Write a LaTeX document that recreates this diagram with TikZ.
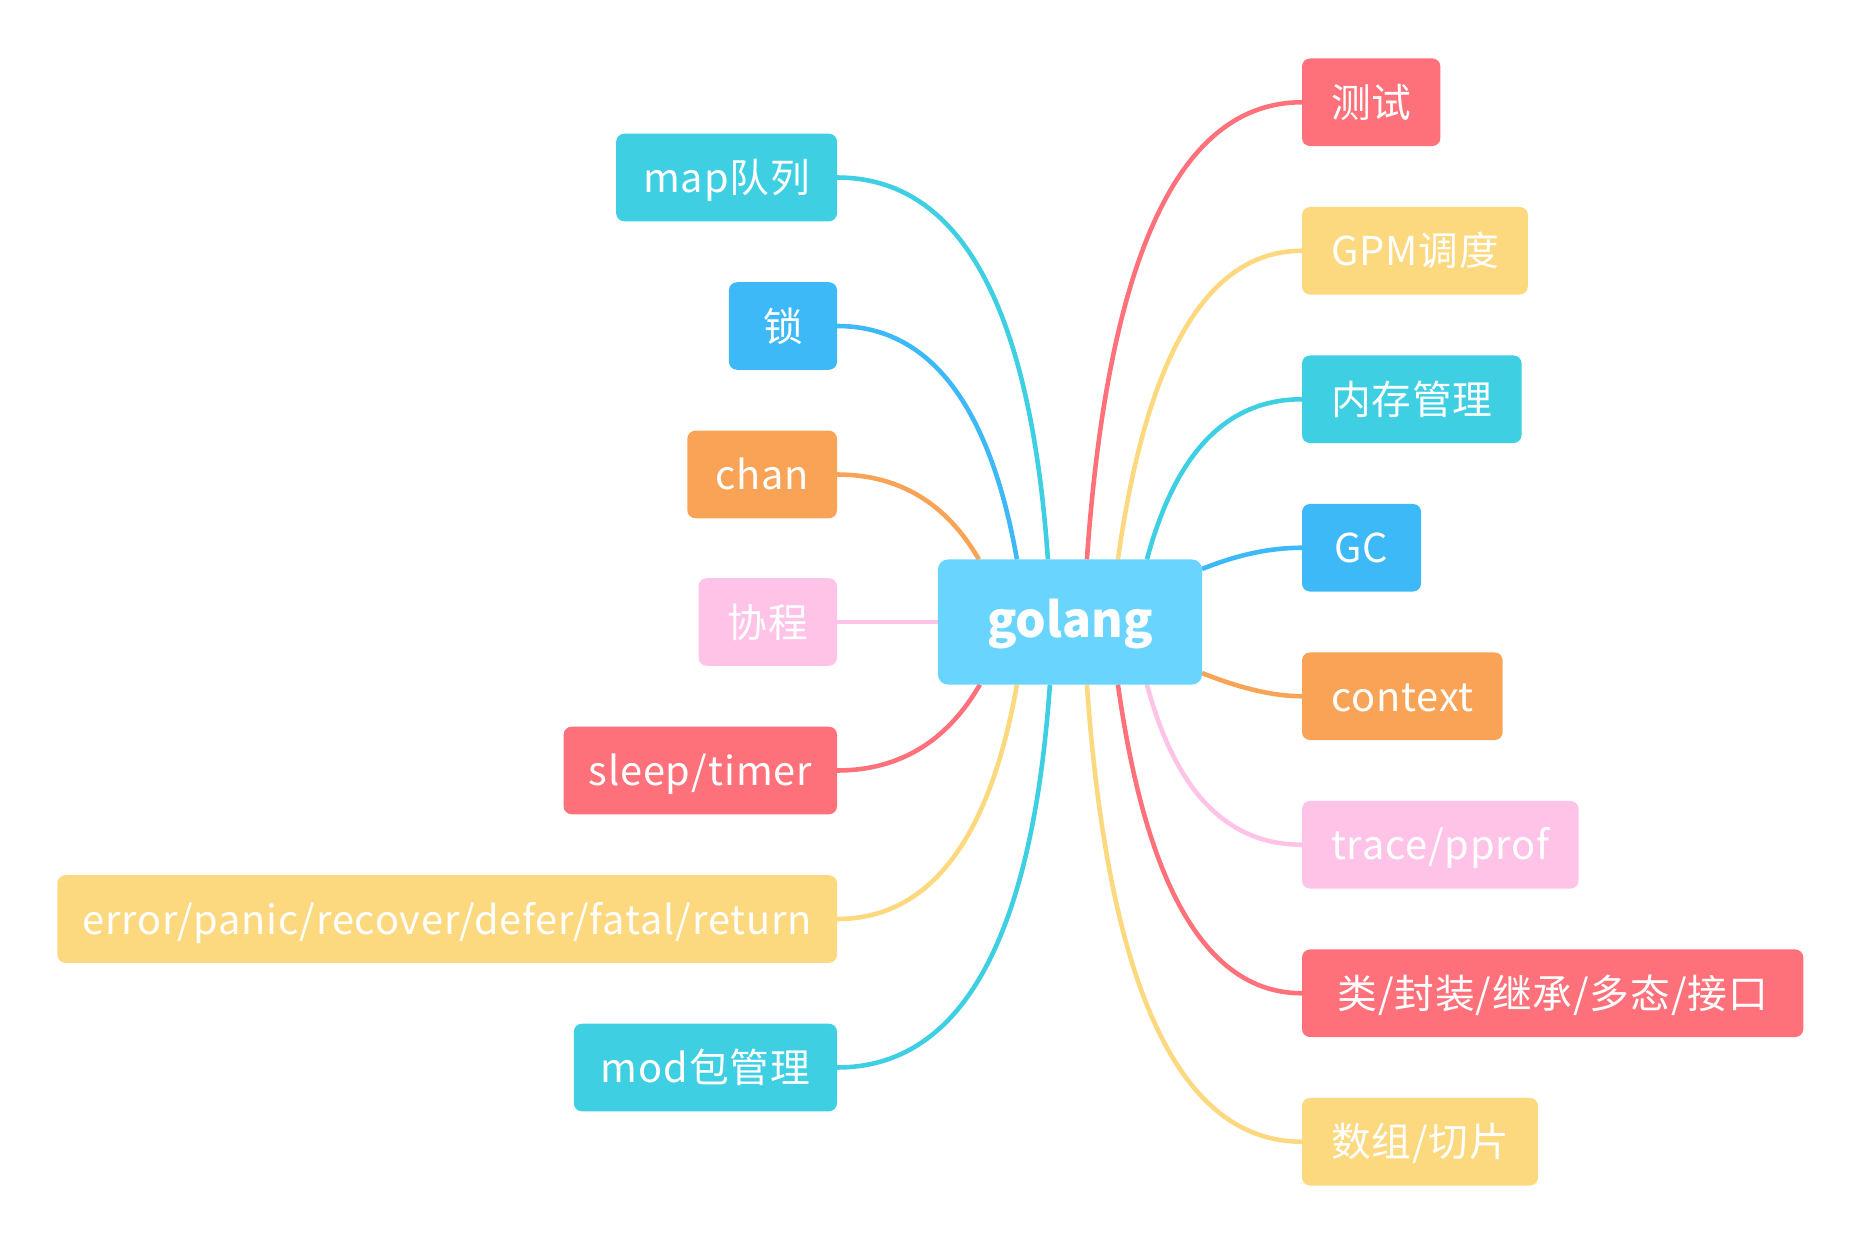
\documentclass[tikz,border=0pt]{standalone}
\usepackage{fontspec}
\setmainfont{Noto Sans CJK SC}
\usetikzlibrary{backgrounds}

\definecolor{rootc}{RGB}{105,213,255}
\definecolor{tealc}{RGB}{62,207,227}
\definecolor{bluec}{RGB}{62,185,248}
\definecolor{orangec}{RGB}{248,163,86}
\definecolor{pinkc}{RGB}{255,195,232}
\definecolor{redc}{RGB}{255,113,122}
\definecolor{yellowc}{RGB}{252,216,127}

\newfontfamily\leaffont[LetterSpace=2.2]{Noto Sans CJK SC}

\tikzset{
  leaf/.style={rounded corners=0.08cm, minimum height=0.875cm, inner xsep=0.29cm,
    outer sep=0pt, text=white, text height=0.36cm, text depth=0.06cm,
    font=\leaffont\fontsize{11.3}{13}\selectfont},
  link/.style={line width=1.3pt}
}

\begin{document}
\begin{tikzpicture}[x=0.01cm, y=0.01cm]
  \useasboundingbox (0,0) rectangle (1862,1244);

  % centre topic
  \node[fill=rootc, rounded corners=0.1cm, minimum width=2.64cm, minimum height=1.25cm,
    inner sep=0pt, outer sep=0pt, text=white, text height=0.42cm, text depth=0.12cm,
    font=\fontsize{13.7}{16}\selectfont\bfseries] (root) at (1070,622) {golang};

  % left branch
  \node[leaf, fill=tealc, anchor=east, inner xsep=0.27cm] (mapq) at (837,1066.5) {map队列};
  \node[leaf, fill=bluec, anchor=east, minimum width=1.08cm] (lock) at (837,918) {锁};
  \node[leaf, fill=orangec, anchor=east, inner xsep=0.28cm] (chan) at (837,769.5) {chan};
  \node[leaf, fill=pinkc, anchor=east] (coro) at (837,622) {协程};
  \node[leaf, fill=redc, anchor=east, inner xsep=0.25cm] (sleep) at (837,473.5) {sleep/timer};
  \node[leaf, fill=yellowc, anchor=east, inner xsep=0.25cm] (err) at (837,325) {error/panic/recover/defer/fatal/return};
  \node[leaf, fill=tealc, anchor=east, inner xsep=0.27cm] (mod) at (837,176.5) {mod包管理};

  % right branch
  \node[leaf, fill=redc, anchor=west] (test) at (1302,1141.75) {测试};
  \node[leaf, fill=yellowc, anchor=west] (gpm) at (1302,993.25) {GPM调度};
  \node[leaf, fill=tealc, anchor=west] (mem) at (1302,844.75) {内存管理};
  \node[leaf, fill=bluec, anchor=west, minimum width=1.19cm] (gc) at (1302,696.25) {GC};
  \node[leaf, fill=orangec, anchor=west] (ctx) at (1302,547.75) {context};
  \node[leaf, fill=pinkc, anchor=west] (trace) at (1302,399.25) {trace/pprof};
  \node[leaf, fill=redc, anchor=west, minimum width=5.01cm] (oop) at (1302,250.75) {类/封装/继承/多态/接口};
  \node[leaf, fill=yellowc, anchor=west] (slice) at (1302,102.25) {数组/切片};

  % links
  \begin{scope}[on background layer]
  \begin{scope}[link]
    \draw[tealc] (root.north west) ++(110,0) .. controls +(94:255) and +(0:123) .. (mapq.east);
    \draw[bluec] (root.north west) ++(79,0) .. controls +(100:158) and +(0:92) .. (lock.east);
    \draw[orangec] (root.north west) ++(41,0) .. controls +(120:65) and +(0:62) .. (chan.east);
    \draw[pinkc] (coro.east) -- (root.west);
    \draw[redc] (root.south west) ++(42,0) .. controls +(-120:66) and +(0:62) .. (sleep.east);
    \draw[yellowc] (root.south west) ++(79,0) .. controls +(-100:159) and +(0:92) .. (err.east);
    \draw[tealc] (root.south west) ++(112,0) .. controls +(-94:256) and +(0:124) .. (mod.east);

    \draw[redc] (root.north west) ++(149,0) .. controls +(86:306) and +(180:122) .. (test.west);
    \draw[yellowc] (root.north west) ++(180,0) .. controls +(82:208) and +(180:94) .. (gpm.west);
    \draw[tealc] (root.north west) ++(209,0) .. controls +(75:111) and +(180:75) .. (mem.west);
    \draw[bluec] (root.east) ++(0,53) .. controls +(22:38) and +(180:32) .. (gc.west);
    \draw[orangec] (root.east) ++(0,-51) .. controls +(-22:41) and +(180:28) .. (ctx.west);
    \draw[pinkc] (root.south west) ++(209,0) .. controls +(-75:111) and +(180:75) .. (trace.west);
    \draw[redc] (root.south west) ++(180,0) .. controls +(-82:208) and +(180:94) .. (oop.west);
    \draw[yellowc] (root.south west) ++(149,0) .. controls +(-86:306) and +(180:122) .. (slice.west);
  \end{scope}
  \end{scope}
\end{tikzpicture}
\end{document}
